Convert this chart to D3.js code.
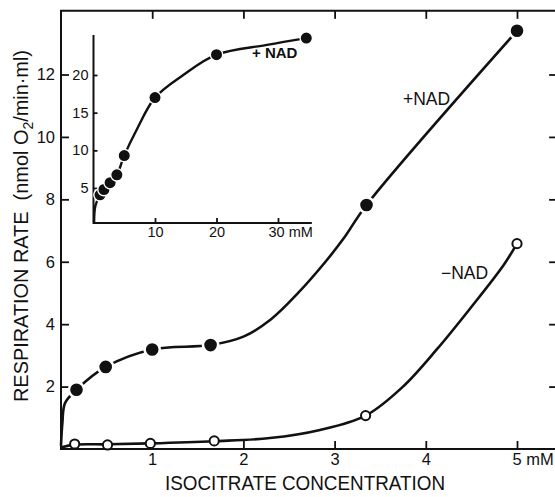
<!DOCTYPE html>
<html>
<head>
<meta charset="utf-8">
<script src="https://cdn.jsdelivr.net/npm/d3@7"></script>
<style>
  body { margin: 0; background: #fff; }
  svg { display: block; }
  text { font-family: "Liberation Sans", Arial, Helvetica, sans-serif; fill: #111; }
</style>
</head>
<body>
<script>
let W = 555, H = 497;

// measured points, main panel (mM, nmol O2/min·ml)
let plusX = [0.17, 0.49, 1.0, 1.64, 3.35, 5.0];
let plusY = [1.9, 2.63, 3.19, 3.33, 7.82, 13.4];
let minusX = [0.15, 0.51, 0.98, 1.68, 3.34, 5.0];
let minusY = [0.16, 0.13, 0.18, 0.26, 1.07, 6.58];

// hand drawn fit lines
let plusCurveX = [0, 0.015, 0.044, 0.17, 0.49, 1.0, 1.64, 2.0, 2.3, 2.6, 2.9, 3.1, 3.35, 5.0];
let plusCurveY = [0.1, 0.83, 1.47, 1.9, 2.63, 3.19, 3.33, 3.6, 4.15, 5.0, 6.0, 6.75, 7.82, 13.4];
let minusCurveX = [0.0, 0.15, 0.51, 0.98, 1.68, 2.29, 2.84, 3.34, 3.75, 4.12, 4.48, 4.85, 5.0];
let minusCurveY = [0.05, 0.14, 0.15, 0.18, 0.25, 0.35, 0.61, 1.07, 2.0, 3.19, 4.48, 5.88, 6.58];

// inset (+NAD, up to 35 mM)
let insetX = [1.06, 1.7, 2.7, 3.8, 5.0, 10, 20, 34.6];
let insetY = [4.1, 4.8, 5.7, 6.75, 9.3, 17.0, 22.7, 24.9];
let insetCurveX = [0.1, 0.3, 1.06, 1.7, 2.7, 3.8, 5.0, 7.0, 10, 14.6, 20, 28.2, 34.6];
let insetCurveY = [0.5, 2.6, 4.1, 4.8, 5.7, 6.75, 9.3, 12.7, 17.0, 20.0, 22.7, 24.0, 24.9];

let xTicks = [1, 2, 3, 4, 5];
let yTicks = [2, 4, 6, 8, 10, 12];
let insetXTicks = [10, 20, 30];
let insetYTicks = [5, 10, 15, 20];

let svg = d3.select("body").append("svg")
  .attr("width", W).attr("height", H)
  .attr("viewBox", "0 0 " + W + " " + H);

let x = d3.scaleLinear().domain([0, 5]).range([61, 517]);
let y = d3.scaleLinear().domain([0, 12]).range([449, 74.5]);
let xMax = 5.44, yMax = 14.04;

// frame (top + left + bottom; right side runs off the picture)
svg.append("path")
  .attr("d", "M" + x(xMax) + "," + y(yMax) + "H" + x(0) + "V" + y(0) + "H" + x(xMax) + "V" + y(yMax))
  .attr("fill", "none").attr("stroke", "#111").attr("stroke-width", 2);

let tk = 8;
let xAx = svg.append("g").attr("transform", "translate(0," + y(0) + ")")
  .call(d3.axisBottom(x).tickValues(xTicks).tickSizeInner(-tk).tickSizeOuter(0).tickPadding(4)
    .tickFormat(d => d));
let yAx = svg.append("g").attr("transform", "translate(" + x(0) + ",0)")
  .call(d3.axisLeft(y).tickValues(yTicks).tickSizeInner(-tk).tickSizeOuter(0).tickPadding(6));
svg.append("g").attr("transform", "translate(0," + y(yMax) + ")")
  .call(d3.axisTop(x).tickValues(xTicks).tickSizeInner(-tk).tickSizeOuter(0).tickFormat(""));
svg.append("g").attr("transform", "translate(" + x(xMax) + ",0)")
  .call(d3.axisRight(y).tickValues(yTicks).tickSizeInner(-tk).tickSizeOuter(0).tickFormat(""));

svg.selectAll(".domain").remove();
svg.selectAll(".tick line").attr("stroke", "#111").attr("stroke-width", 1.8);
xAx.selectAll("text").attr("font-size", 16.5).attr("fill", "#111");
yAx.selectAll("text").attr("font-size", 16.5).attr("fill", "#111");
xAx.selectAll(".tick").filter(d => d === 5).select("text")
  .text("5 mM").attr("text-anchor", "start").attr("dx", -5);

// axis titles
svg.append("text")
  .attr("x", 305).attr("y", 490)
  .attr("text-anchor", "middle").attr("font-size", 19.5)
  .attr("textLength", 280).attr("lengthAdjust", "spacingAndGlyphs")
  .text("ISOCITRATE CONCENTRATION");

let yt = svg.append("text")
  .attr("transform", "translate(28,226) rotate(-90)")
  .attr("text-anchor", "middle").attr("font-size", 20)
  .attr("textLength", 352).attr("lengthAdjust", "spacingAndGlyphs");
yt.append("tspan").text("RESPIRATION RATE\u00A0\u00A0(nmol O");
yt.append("tspan").attr("font-size", 14).attr("dy", 5).text("2");
yt.append("tspan").attr("dy", -5).text("/min\u00B7ml)");

// lines
let line = d3.line().x(d => x(d[0])).y(d => y(d[1])).curve(d3.curveCatmullRom.alpha(0.5));
svg.append("path").datum(d3.zip(plusCurveX, plusCurveY))
  .attr("d", line).attr("fill", "none").attr("stroke", "#111").attr("stroke-width", 2.6);
svg.append("path").datum(d3.zip(minusCurveX, minusCurveY))
  .attr("d", line).attr("fill", "none").attr("stroke", "#111").attr("stroke-width", 2.6);

svg.selectAll(".plus").data(d3.zip(plusX, plusY)).enter().append("circle")
  .attr("cx", d => x(d[0])).attr("cy", d => y(d[1])).attr("r", 7.6)
  .attr("fill", "#111").attr("stroke", "#fff").attr("stroke-width", 2.6);
svg.selectAll(".minus").data(d3.zip(minusX, minusY)).enter().append("circle")
  .attr("cx", d => x(d[0])).attr("cy", d => y(d[1])).attr("r", 4.6)
  .attr("fill", "#fff").attr("stroke", "#111").attr("stroke-width", 2);

svg.append("text").attr("x", 403).attr("y", 105).attr("font-size", 17.5).text("+NAD");
svg.append("text").attr("x", 441).attr("y", 279).attr("font-size", 17.5).text("\u2212NAD");

// inset
let ix = d3.scaleLinear().domain([0, 30]).range([93.5, 278]);
let iy = d3.scaleLinear().domain([5, 20]).range([188, 75]);
let ixMin = 0, ixMax = 35.5, iyMin = 0.35, iyMax = 25.3;

let ins = svg.append("g");
ins.append("path")
  .attr("d", "M" + ix(ixMin) + "," + iy(iyMax) + "V" + iy(iyMin) + "H" + ix(ixMax))
  .attr("fill", "none").attr("stroke", "#111").attr("stroke-width", 2);
let ixAx = ins.append("g").attr("transform", "translate(0," + iy(iyMin) + ")")
  .call(d3.axisBottom(ix).tickValues(insetXTicks).tickSizeInner(-5).tickSizeOuter(0).tickPadding(4));
let iyAx = ins.append("g").attr("transform", "translate(" + ix(ixMin) + ",0)")
  .call(d3.axisLeft(iy).tickValues(insetYTicks).tickSizeInner(-4).tickSizeOuter(0).tickPadding(5));
ins.selectAll(".domain").remove();
ins.selectAll(".tick line").attr("stroke", "#111").attr("stroke-width", 1.8);
ixAx.selectAll("text").attr("font-size", 14.5).attr("fill", "#111");
iyAx.selectAll("text").attr("font-size", 14.5).attr("fill", "#111");
ixAx.selectAll(".tick").filter(d => d === 30).select("text")
  .text("30 mM").attr("text-anchor", "start").attr("dx", -10);

ins.append("path").datum(d3.zip(insetCurveX, insetCurveY))
  .attr("d", d3.line().x(d => ix(d[0])).y(d => iy(d[1])).curve(d3.curveCatmullRom.alpha(0.5)))
  .attr("fill", "none").attr("stroke", "#111").attr("stroke-width", 2.4);
ins.selectAll(".ipt").data(d3.zip(insetX, insetY)).enter().append("circle")
  .attr("cx", d => ix(d[0])).attr("cy", d => iy(d[1])).attr("r", 6.2)
  .attr("fill", "#111").attr("stroke", "#fff").attr("stroke-width", 1.4);
ins.append("text").attr("x", 252).attr("y", 58).attr("font-size", 15)
  .attr("font-weight", "bold").text("+ NAD");
</script>
</body>
</html>
